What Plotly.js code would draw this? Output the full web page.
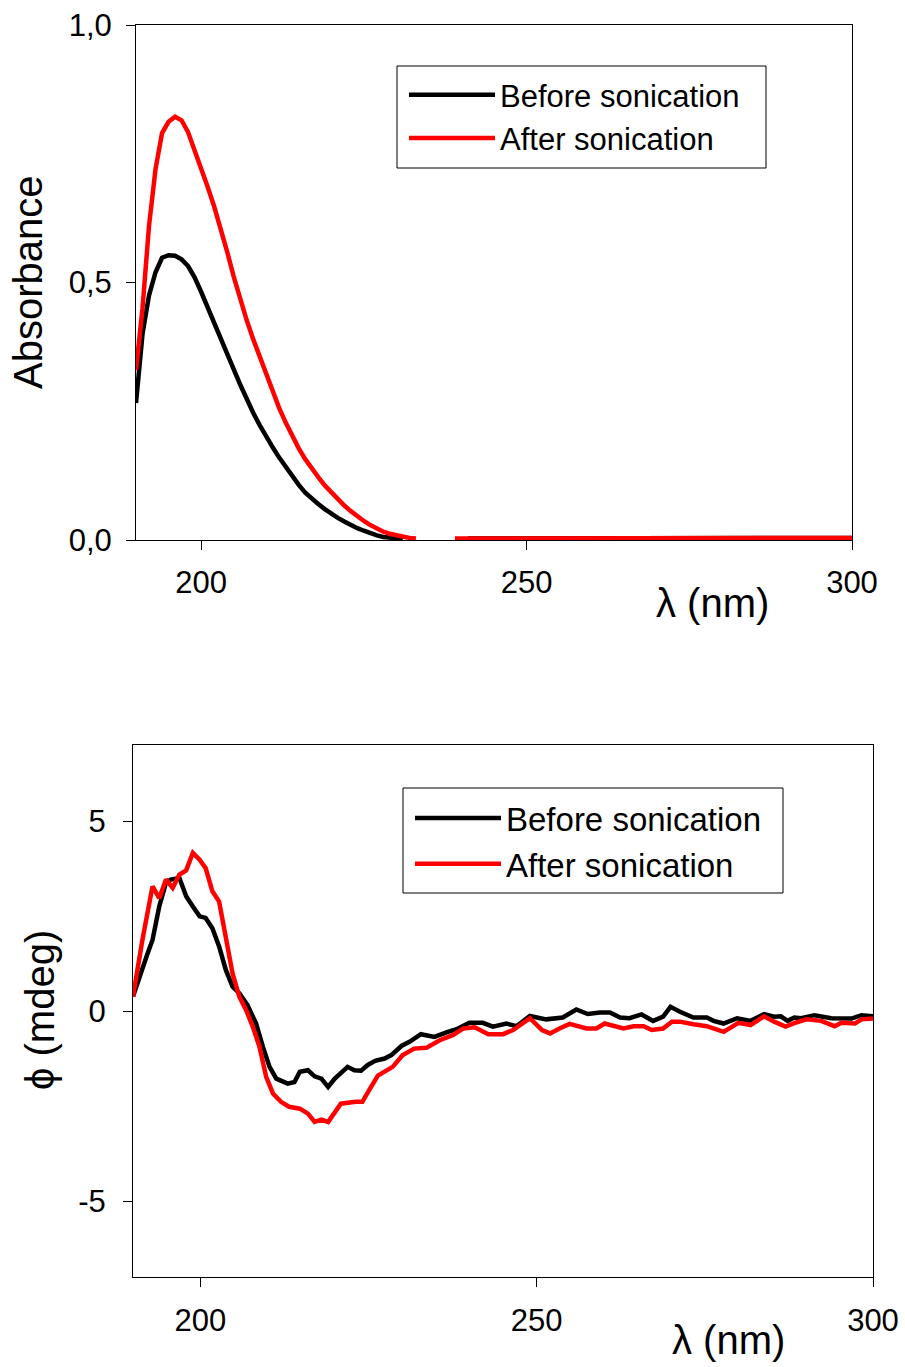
<!DOCTYPE html>
<html>
<head>
<meta charset="utf-8">
<script src="https://cdn.plot.ly/plotly-3.0.1.min.js"></script>
<style>html,body{margin:0;padding:0;background:#fff;}#chart{width:905px;height:1367px;}</style>
</head>
<body>
<div id="chart"></div>
<script>
// ---------- Top panel: absorbance ----------
const absBeforeX = [190,191,192,193,194,195,196,197,198,199,200,201,202,203,204,205,206,207,208,209,210,211,212,213,214,215,216,217,218,219,220,221,222,223,224,225,226,227,228,229,230,231,null,241,245,250,255,260,265,270,275,280,285,290,295,300];
const absBeforeY = [0.266,0.400,0.475,0.520,0.548,0.553,0.552,0.545,0.532,0.510,0.482,0.453,0.422,0.392,0.362,0.332,0.302,0.273,0.247,0.223,0.200,0.180,0.160,0.142,0.124,0.107,0.092,0.080,0.070,0.060,0.051,0.043,0.036,0.029,0.023,0.018,0.013,0.009,0.006,0.004,0.003,0.002,null,0.003,0.003,0.003,0.004,0.004,0.004,0.004,0.004,0.004,0.004,0.004,0.004,0.004];
const absAfterX = [190,191,192,193,194,195,196,197,198,199,200,201,202,203,204,205,206,207,208,209,210,211,212,213,214,215,216,217,218,219,220,221,222,223,224,225,226,227,228,229,230,231,232,233,null,239,240,245,250,255,260,265,270,275,280,285,290,295,300];
const absAfterY = [0.330,0.450,0.610,0.720,0.790,0.812,0.822,0.815,0.792,0.758,0.722,0.686,0.648,0.606,0.560,0.512,0.468,0.427,0.390,0.356,0.320,0.285,0.256,0.228,0.202,0.178,0.157,0.138,0.122,0.106,0.092,0.079,0.067,0.056,0.046,0.037,0.029,0.022,0.016,0.012,0.009,0.006,0.004,0.003,null,0.003,0.003,0.004,0.004,0.005,0.005,0.005,0.005,0.005,0.005,0.005,0.005,0.005,0.004];

// ---------- Bottom panel: CD signal ----------
const cdBeforeX = [190,191.4,192.1,192.9,193.9,194.9,195.6,196.9,197.9,198.9,199.9,200.8,201.8,202.8,203.8,204.8,205.8,207,208.3,209.3,210.3,211.3,213,214,214.8,216,217,218,219,220,220.9,221.9,222.9,223.9,224.9,226,227.4,228.4,229.9,231.1,232.8,234.8,236.8,238.1,240,242,243.5,245.5,247,249,251.4,253.9,255.9,257.6,259.4,260.9,262.4,263.8,265.6,267.3,268.8,269.9,271.3,273.3,275.3,276.3,277.8,279.8,281.8,283.8,285.3,286.3,287.3,288.3,289.3,291.3,293.8,295.8,296.8,298.3,300];
const cdBeforeY = [0.38,1.17,1.48,1.87,2.75,3.37,3.46,3.50,3.02,2.75,2.49,2.45,2.18,1.70,1.08,0.64,0.47,0.16,-0.33,-0.94,-1.47,-1.78,-1.91,-1.87,-1.60,-1.56,-1.72,-1.78,-2.00,-1.78,-1.64,-1.47,-1.56,-1.57,-1.42,-1.31,-1.25,-1.16,-0.92,-0.81,-0.61,-0.68,-0.55,-0.48,-0.31,-0.31,-0.41,-0.33,-0.40,-0.13,-0.22,-0.17,0.04,-0.08,-0.04,-0.04,-0.17,-0.19,-0.09,-0.26,-0.15,0.11,-0.02,-0.17,-0.17,-0.26,-0.33,-0.19,-0.26,-0.08,-0.15,-0.14,-0.26,-0.17,-0.19,-0.11,-0.19,-0.19,-0.20,-0.11,-0.14];
const cdAfterX = [190,191.4,192.9,193.9,194.9,195.9,196.9,197.9,198.9,199.9,200.8,201.8,202.8,203.8,204.8,205.8,206.8,207.8,208.8,209.8,210.8,212,213.2,214.8,216,217,218,219,220,220.9,223.1,224.1,225.1,226.4,228.6,230.1,231.8,233.6,235.6,237.6,239.1,240.8,242.8,245,246.5,249,250.8,252,253.4,254.9,257.4,258.9,260.1,261.4,262.9,264.4,265.9,267.1,268.8,270.1,271.3,273.3,275.3,277.8,280,281.8,283.8,285.3,287,288.3,290.1,292.3,294.3,295.3,297.3,298.3,300];
const cdAfterY = [0.38,1.87,3.28,2.97,3.46,3.24,3.59,3.70,4.16,3.98,3.76,3.15,2.88,1.87,0.99,0.38,0.03,-0.41,-0.94,-1.73,-2.17,-2.39,-2.52,-2.57,-2.70,-2.92,-2.86,-2.92,-2.66,-2.44,-2.39,-2.39,-2.08,-1.70,-1.47,-1.16,-0.99,-0.97,-0.77,-0.63,-0.46,-0.43,-0.61,-0.61,-0.50,-0.19,-0.50,-0.59,-0.46,-0.34,-0.46,-0.46,-0.33,-0.40,-0.46,-0.40,-0.40,-0.50,-0.46,-0.28,-0.28,-0.35,-0.40,-0.55,-0.31,-0.37,-0.14,-0.28,-0.41,-0.32,-0.22,-0.26,-0.40,-0.31,-0.33,-0.22,-0.20];

const xTickVals = [200, 250, 300];
const xTickText = ['200', '250', '300'];
const absTickVals = [0, 0.5, 1];
const absTickText = ['0,0', '0,5', '1,0'];
const cdTickVals = [-5, 0, 5];
const cdTickText = ['-5', '0', '5'];
const seriesNames = ['Before sonication', 'After sonication'];

const FONT = 'Liberation Sans, Arial, Helvetica, sans-serif';
const W = 905, H = 1367;
const px = v => v / W;
const py = v => 1 - v / H;

const traces = [
  {x: absBeforeX, y: absBeforeY, xaxis: 'x', yaxis: 'y', name: seriesNames[0], mode: 'lines',
   line: {color: '#000000', width: 4.5}, connectgaps: false, cliponaxis: false, legend: 'legend'},
  {x: absAfterX, y: absAfterY, xaxis: 'x', yaxis: 'y', name: seriesNames[1], mode: 'lines',
   line: {color: '#ff0000', width: 4.5}, connectgaps: false, cliponaxis: false, legend: 'legend'},
  {x: cdBeforeX, y: cdBeforeY, xaxis: 'x2', yaxis: 'y2', name: seriesNames[0], mode: 'lines',
   line: {color: '#000000', width: 4.5}, legend: 'legend2'},
  {x: cdAfterX, y: cdAfterY, xaxis: 'x2', yaxis: 'y2', name: seriesNames[1], mode: 'lines',
   line: {color: '#ff0000', width: 4.5}, legend: 'legend2'}
];

const axCommon = {
  showline: true, mirror: true, linecolor: '#000', linewidth: 1,
  showgrid: false, zeroline: false, ticks: 'outside', ticklen: 9, tickwidth: 1, tickcolor: '#000',
  tickfont: {family: FONT, size: 31, color: '#000'}, fixedrange: true
};

const legendCommon = {
  xanchor: 'left', yanchor: 'top', bgcolor: 'rgba(0,0,0,0)', borderwidth: 0,
  itemwidth: 86, indentation: 7, tracegroupgap: 0
};

// legend frames
const frameStyle = {type: 'rect', xref: 'paper', yref: 'paper', layer: 'above',
  line: {color: '#000', width: 1}, fillcolor: '#fff'};

const layout = {
  width: W, height: H,
  margin: {l: 0, r: 0, t: 0, b: 0},
  paper_bgcolor: '#fff', plot_bgcolor: '#fff',
  font: {family: FONT, color: '#000'},
  showlegend: true,
  xaxis: Object.assign({}, axCommon, {domain: [px(136), px(852)], range: [190, 300], anchor: 'y',
    tickvals: xTickVals, ticktext: xTickText, ticklabelstandoff: 6}),
  yaxis: Object.assign({}, axCommon, {domain: [py(540), py(25)], range: [0, 1], anchor: 'x',
    tickvals: absTickVals, ticktext: absTickText, ticklabelstandoff: 8}),
  xaxis2: Object.assign({}, axCommon, {domain: [px(133), px(873)], range: [190, 300], anchor: 'y2',
    tickvals: xTickVals, ticktext: xTickText, ticklabelstandoff: 7}),
  yaxis2: Object.assign({}, axCommon, {domain: [py(1277), py(745)], range: [-7, 7], anchor: 'x2',
    tickvals: cdTickVals, ticktext: cdTickText, ticklabelstandoff: 11}),
  legend: Object.assign({}, legendCommon, {x: px(397), y: py(68),
    font: {family: FONT, size: 31, color: '#000'}}),
  legend2: Object.assign({}, legendCommon, {x: px(403), y: py(790),
    font: {family: FONT, size: 33, color: '#000'}}),
  shapes: [
    Object.assign({}, frameStyle, {x0: px(397), x1: px(766), y0: py(168), y1: py(66)}),
    Object.assign({}, frameStyle, {x0: px(403), x1: px(783), y0: py(893), y1: py(788)})
  ],
  annotations: [
    {text: 'Absorbance', xref: 'paper', yref: 'paper', x: px(28), y: py(283), xanchor: 'center', yanchor: 'middle',
     textangle: -90, showarrow: false, font: {family: FONT, size: 40, color: '#000'}},
    {text: 'λ (nm)', xref: 'paper', yref: 'paper', x: px(712), y: py(603), xanchor: 'center', yanchor: 'middle',
     showarrow: false, font: {family: FONT, size: 40, color: '#000'}},
    {text: 'ϕ (mdeg)', xref: 'paper', yref: 'paper', x: px(40), y: py(1010), xanchor: 'center', yanchor: 'middle',
     textangle: -90, showarrow: false, font: {family: FONT, size: 40, color: '#000'}},
    {text: 'λ (nm)', xref: 'paper', yref: 'paper', x: px(728), y: py(1340), xanchor: 'center', yanchor: 'middle',
     showarrow: false, font: {family: FONT, size: 40, color: '#000'}}
  ]
};

Plotly.newPlot('chart', traces, layout, {displayModeBar: false, staticPlot: true});
</script>
</body>
</html>
